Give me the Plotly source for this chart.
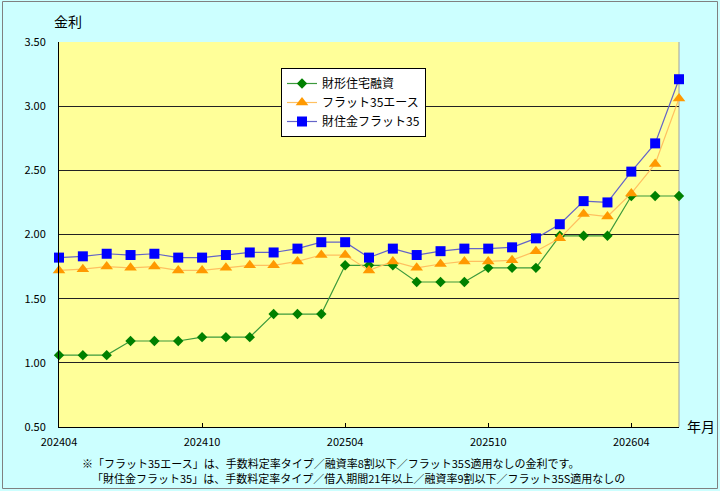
import plotly.graph_objects as go

months = ["202404","202405","202406","202407","202408","202409","202410","202411","202412",
          "202501","202502","202503","202504","202505","202506","202507","202508","202509",
          "202510","202511","202512","202601","202602","202603","202604","202605","202606"]

zaikei = [1.06,1.06,1.06,1.17,1.17,1.17,1.20,1.20,1.20,1.38,1.38,1.38,1.76,1.76,1.76,
          1.63,1.63,1.63,1.74,1.74,1.74,1.99,1.99,1.99,2.30,2.30,2.30]
flat35ace = [1.72,1.73,1.75,1.74,1.75,1.72,1.72,1.74,1.76,1.76,1.79,1.84,1.84,1.72,1.79,
             1.74,1.77,1.79,1.79,1.80,1.87,1.97,2.16,2.14,2.32,2.55,3.06]
zaijukin35 = [1.82,1.83,1.85,1.84,1.85,1.82,1.82,1.84,1.86,1.86,1.89,1.94,1.94,1.82,1.89,
              1.84,1.87,1.89,1.89,1.90,1.97,2.08,2.26,2.25,2.49,2.71,3.21]

tick_months = ["202404","202410","202504","202510","202604"]
names = ["財形住宅融資", "フラット35エース", "財住金フラット35"]
note1 = "※「フラット35エース」は、手数料定率タイプ／融資率8割以下／フラット35S適用なしの金利です。"
note2 = "「財住金フラット35」は、手数料定率タイプ／借入期間21年以上／融資率9割以下／フラット35S適用なしの"

W, H = 720, 491
L, R, T, B = 59, 41, 42, 64
PW, PH = W - L - R, H - T - B

def px(x):
    return (x - L) / PW

def py(y):
    return (H - B - y) / PH

FONT = "Noto Sans CJK JP"

fig = go.Figure()
fig.add_trace(go.Scatter(x=months, y=zaikei, name=names[0], mode="lines+markers",
                         cliponaxis=False,
                         line=dict(color="#3C9A3C", width=1.2),
                         marker=dict(symbol="diamond", size=8, color="#008000")))
fig.add_trace(go.Scatter(x=months, y=flat35ace, name=names[1], mode="lines+markers",
                         cliponaxis=False,
                         line=dict(color="#FFC060", width=1.2),
                         marker=dict(symbol="triangle-up", size=11, color="#FF9900")))
fig.add_trace(go.Scatter(x=months, y=zaijukin35, name=names[2], mode="lines+markers",
                         cliponaxis=False,
                         line=dict(color="#6464C8", width=1.2),
                         marker=dict(symbol="square", size=10, color="#0000FF")))

fig.update_layout(
    width=W, height=H,
    margin=dict(l=L, r=R, t=T, b=B),
    paper_bgcolor="#CCFFFF",
    plot_bgcolor="#FFFF99",
    font=dict(family=FONT, size=11, color="#000000"),
    showlegend=True,
    legend=dict(x=px(281), y=py(68), xanchor="left", yanchor="top",
                bgcolor="#FFFFFF", bordercolor="#000000", borderwidth=1,
                font=dict(size=12, family=FONT), tracegroupgap=0, itemwidth=30),
    xaxis=dict(type="category", range=[0, len(months) - 1],
               tickvals=tick_months, ticktext=tick_months,
               ticks="inside", ticklen=4, tickcolor="#000000",
               ticklabelstandoff=5,
               showgrid=False, showline=True, linecolor="#000000", linewidth=1,
               tickfont=dict(size=11), zeroline=False),
    yaxis=dict(range=[0.5, 3.5], dtick=0.5, tick0=0.5, tickformat=".2f",
               showgrid=True, gridcolor="#222222", gridwidth=1,
               showline=True, linecolor="#000000", linewidth=1,
               ticks="", ticklabelstandoff=10, zeroline=False,
               tickfont=dict(size=11)),
    shapes=[
        dict(type="line", xref="paper", yref="paper", x0=1, x1=1, y0=0, y1=1,
             line=dict(color="#A0A0A0", width=1), layer="below"),
        dict(type="rect", xref="paper", yref="paper",
             x0=px(2.5), x1=px(717.5), y0=py(1.5), y1=py(488.5),
             line=dict(color="#808080", width=1), layer="below"),
    ],
    annotations=[
        dict(text="金利", x=px(52), y=py(21), xref="paper", yref="paper",
             xanchor="left", yanchor="middle", showarrow=False, font=dict(size=14)),
        dict(text="年月", x=px(685), y=py(426), xref="paper", yref="paper",
             xanchor="left", yanchor="middle", showarrow=False, font=dict(size=14)),
        dict(text=note1, x=px(80), y=py(463), xref="paper", yref="paper",
             xanchor="left", yanchor="middle", showarrow=False, font=dict(size=11)),
        dict(text=note2, x=px(90), y=py(478), xref="paper", yref="paper",
             xanchor="left", yanchor="middle", showarrow=False, font=dict(size=11)),
    ],
)

fig.write_html("out.html")
